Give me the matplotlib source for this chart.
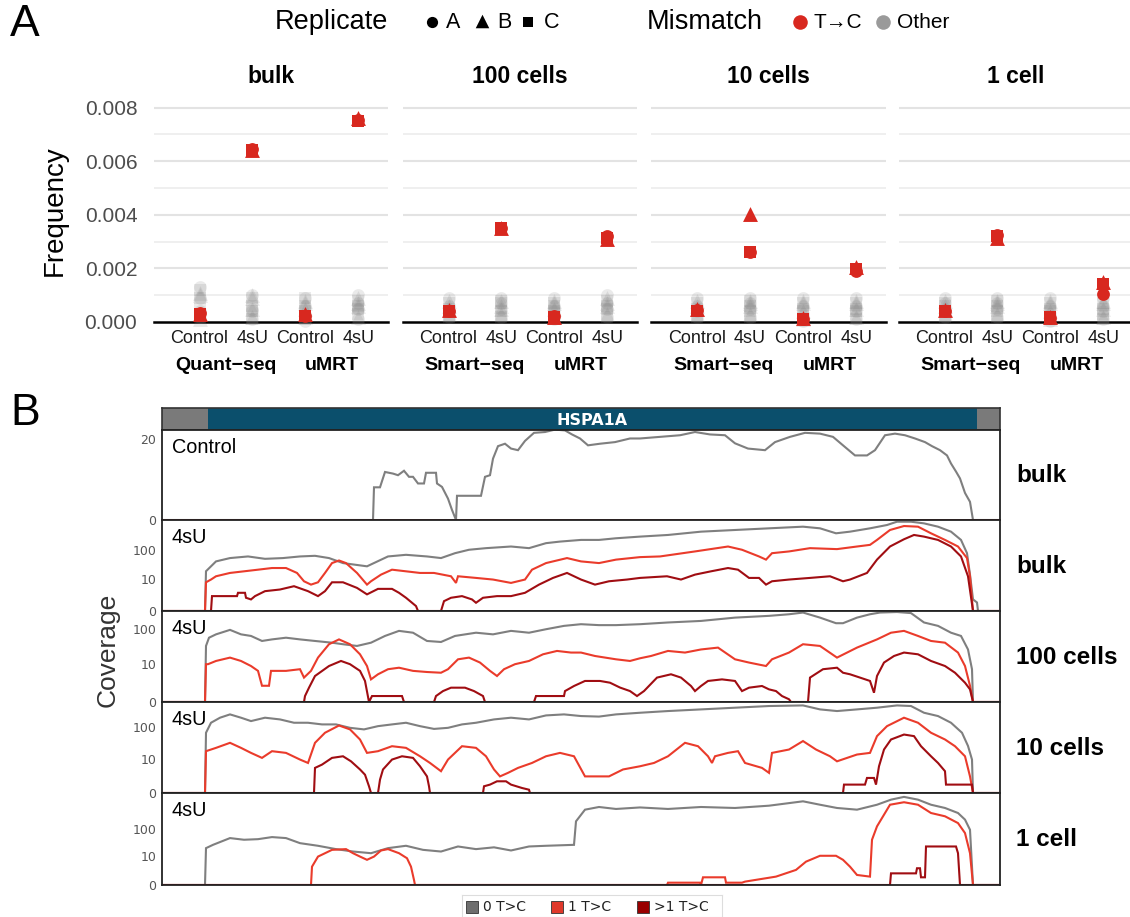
import matplotlib
matplotlib.use('Agg')
import matplotlib.pyplot as plt
import numpy as np
from matplotlib.patches import Rectangle
import matplotlib.transforms as mtrans

plt.rcParams['font.family'] = ['Liberation Sans', 'DejaVu Sans']

# ---------------- Panel A data ----------------
facet_titles = ['bulk', '100 cells', '10 cells', '1 cell']
conditions = ['Control', '4sU', 'Control', '4sU']
method_labels = [['Quant\u2212seq', 'uMRT'], ['Smart\u2212seq', 'uMRT'],
                 ['Smart\u2212seq', 'uMRT'], ['Smart\u2212seq', 'uMRT']]
replicates = ['A', 'B', 'C']
# T->C frequency per category, replicates [A, B, C]
tc_bulk = [[0.00032, 0.00030, 0.00028], [0.00645, 0.00640, 0.00640],
           [0.00024, 0.00028, 0.00022], [0.00755, 0.00760, 0.00750]]
tc_100 = [[0.00042, 0.00046, 0.00042], [0.00350, 0.00352, 0.00350],
          [0.00022, 0.00018, 0.00020], [0.00322, 0.00310, 0.00312]]
tc_10 = [[0.00045, 0.00047, 0.00042], [0.00260, 0.00402, 0.00260],
         [0.00010, 0.00015, 0.00010], [0.00190, 0.00205, 0.00198]]
tc_1 = [[0.00042, 0.00045, 0.00040], [0.00325, 0.00312, 0.00320],
        [0.00016, 0.00020, 0.00018], [0.00105, 0.00150, 0.00140]]
# other mismatch frequencies per category (4 values per replicate A, B, C)
other_bulk = [
    [0.00020, 0.00040, 0.00090, 0.00130, 0.00010, 0.00030, 0.00100, 0.00110, 0.00020, 0.00050, 0.00090, 0.00120],
    [0.00010, 0.00040, 0.00050, 0.00100, 0.00020, 0.00050, 0.00090, 0.00100, 0.00010, 0.00040, 0.00060, 0.00090],
    [0.00005, 0.00030, 0.00060, 0.00090, 0.00020, 0.00050, 0.00070, 0.00080, 0.00010, 0.00040, 0.00060, 0.00090],
    [0.00010, 0.00050, 0.00070, 0.00100, 0.00020, 0.00060, 0.00070, 0.00090, 0.00030, 0.00050, 0.00060, 0.00080]]
other_100 = [
    [0.00020, 0.00040, 0.00060, 0.00090, 0.00030, 0.00050, 0.00060, 0.00080, 0.00020, 0.00040, 0.00050, 0.00070],
    [0.00020, 0.00050, 0.00070, 0.00090, 0.00030, 0.00050, 0.00060, 0.00080, 0.00020, 0.00040, 0.00070, 0.00080],
    [0.00010, 0.00040, 0.00060, 0.00090, 0.00020, 0.00050, 0.00070, 0.00080, 0.00010, 0.00040, 0.00060, 0.00070],
    [0.00020, 0.00050, 0.00070, 0.00100, 0.00030, 0.00060, 0.00070, 0.00090, 0.00020, 0.00050, 0.00060, 0.00080]]
other_10 = [
    [0.00020, 0.00040, 0.00060, 0.00090, 0.00030, 0.00050, 0.00060, 0.00080, 0.00020, 0.00040, 0.00050, 0.00070],
    [0.00020, 0.00050, 0.00070, 0.00090, 0.00030, 0.00060, 0.00070, 0.00080, 0.00020, 0.00040, 0.00060, 0.00080],
    [0.00005, 0.00030, 0.00060, 0.00090, 0.00010, 0.00040, 0.00070, 0.00080, 0.00010, 0.00040, 0.00050, 0.00070],
    [0.00010, 0.00040, 0.00060, 0.00090, 0.00020, 0.00050, 0.00070, 0.00080, 0.00010, 0.00040, 0.00050, 0.00070]]
other_1 = [
    [0.00020, 0.00050, 0.00070, 0.00090, 0.00030, 0.00050, 0.00060, 0.00080, 0.00020, 0.00040, 0.00060, 0.00070],
    [0.00020, 0.00050, 0.00070, 0.00090, 0.00030, 0.00060, 0.00070, 0.00080, 0.00020, 0.00040, 0.00060, 0.00080],
    [0.00005, 0.00030, 0.00060, 0.00090, 0.00010, 0.00040, 0.00070, 0.00080, 0.00010, 0.00040, 0.00050, 0.00070],
    [0.00010, 0.00040, 0.00060, 0.00090, 0.00020, 0.00050, 0.00070, 0.00080, 0.00010, 0.00030, 0.00050, 0.00070]]
freq_ticks = [0.000, 0.002, 0.004, 0.006, 0.008]

# ---------------- Panel B data (position along locus, coverage) ----------------
gene_name = 'HSPA1A'
locus = (162, 1000)
gene_span = (208, 977)
track_labels = ['bulk', 'bulk', '100 cells', '10 cells', '1 cell']
track_conditions = ['Control', '4sU', '4sU', '4sU', '4sU']

ctrl_x = [162, 373, 374, 380, 385, 393, 398, 404, 409, 413, 418, 424, 426, 436, 437, 442, 448, 452, 456, 457,
          481, 485, 490, 493, 498, 505, 511, 518, 525, 534, 545, 555, 565, 572, 580, 588, 600, 615, 630, 640,
          660, 680, 695, 710, 725, 735, 748, 765, 775, 790, 805, 820, 833, 843, 855, 867, 875, 885, 895, 905,
          915, 925, 932, 940, 947, 951, 956, 960, 965, 970, 973, 1000]
ctrl_y = [0, 0, 8.1, 8.1, 11.9, 11.5, 11.1, 12.2, 10.7, 10.7, 9.05, 9.05, 11.7, 11.7, 9.05, 8.2, 5.3, 2.5, 0, 6.0,
          6.0, 10.7, 11.1, 15.2, 18.3, 18.9, 17.7, 17.3, 19.6, 21.6, 21.8, 22.4, 22.2, 21.2, 20.2, 18.5, 18.9, 19.3, 20.2, 20.2,
          20.6, 21.0, 21.8, 21.2, 21.0, 19.0, 17.7, 17.3, 19.3, 20.6, 21.6, 21.4, 20.6, 18.5, 16.0, 16.0, 17.3, 21.0, 21.4, 21.0,
          20.2, 19.3, 18.3, 17.3, 16.0, 14.0, 12.0, 10.3, 6.7, 4.5, 0, 0]

bulk_0tc_x = [162, 205, 206, 216, 230, 248, 265, 283, 300, 315, 329, 343, 367, 388, 406, 427, 441, 455, 469, 486,
              511, 529, 546, 560, 581, 599, 616, 640, 668, 701, 735, 769, 803, 820, 836, 850, 870, 887, 897, 911,
              924, 938, 951, 961, 967, 970, 973, 977, 978, 1000]
bulk_0tc_y = [0, 0, 19, 41, 53, 60, 50, 53, 60, 63, 53, 36, 28, 60, 68, 60, 53, 77, 100, 113,
              128, 113, 165, 186, 211, 211, 239, 271, 307, 394, 447, 507, 574, 507, 348, 394, 507, 651, 835, 835,
              737, 574, 394, 211, 77, 14.5, 1.4, 0.9, 0, 0]
bulk_1tc_x = [162, 205, 206, 211, 216, 230, 244, 258, 272, 286, 297, 304, 311, 318, 325, 332, 339, 346, 357, 367,
              371, 381, 392, 406, 420, 434, 451, 456, 458, 476, 493, 511, 525, 532, 546, 567, 581, 599, 616, 640,
              660, 695, 728, 742, 759, 766, 772, 789, 810, 837, 857, 870, 877, 890, 904, 918, 931, 945, 958, 967,
              970, 973, 1000]
bulk_1tc_y = [0, 0, 7.7, 9.7, 12.7, 16.6, 18.9, 21.5, 24.5, 24.5, 16.6, 8.4, 6.3, 7.7, 16.6, 36, 44, 36, 16.6, 6.3,
              8.4, 14.5, 21.5, 18.9, 16.6, 16.6, 12.7, 7.3, 12.7, 11.1, 9.7, 7.3, 9.7, 21.5, 36, 53, 41, 36, 47, 57,
              60, 88, 128, 100, 60, 47, 77, 88, 113, 105, 128, 145, 211, 447, 603, 574, 348, 211, 128, 53,
              12.7, 0, 0]
bulk_2tc_x = [162, 211, 212, 237, 238, 245, 246, 251, 255, 265, 280, 294, 308, 318, 325, 332, 343, 357, 367, 378,
              392, 399, 406, 416, 418, 441, 444, 451, 462, 472, 476, 483, 497, 511, 525, 539, 553, 567, 581, 595,
              609, 627, 640, 667, 681, 695, 711, 728, 738, 749, 759, 766, 772, 789, 810, 830, 843, 850, 867, 877,
              890, 904, 914, 924, 938, 951, 961, 968, 973, 1000]
bulk_2tc_y = [0, 0, 2.07, 2.07, 2.94, 2.94, 1.71, 1.39, 2.07, 3.46, 4.05, 5.48, 3.46, 2.07, 3.46, 7.7, 7.7, 4.7, 2.5, 4.3,
              4.3, 2.94, 1.71, 0.45, 0, 0, 1.1, 1.71, 2.07, 1.39, 0.86, 1.71, 2.07, 2.07, 2.94, 6.3, 11.1, 16.6, 9.7, 6.3,
              8.4, 9.7, 11.1, 12.7, 9.7, 14.5, 18.9, 24.5, 21.5, 11.1, 11.1, 6.3, 8.4, 9.7, 11.1, 12.7, 8.4, 9.7, 16.6, 47,
              128, 222, 307, 271, 211, 128, 60, 12.7, 0, 0]

c100_0tc_x = [162, 205, 206, 209, 216, 230, 241, 251, 262, 272, 286, 300, 315, 332, 343, 357, 371, 385, 399, 413,
              427, 441, 455, 476, 493, 511, 529, 546, 564, 581, 599, 616, 640, 668, 701, 735, 769, 789, 803, 820,
              836, 843, 857, 870, 880, 897, 911, 924, 938, 951, 961, 968, 972, 973, 1000]
c100_0tc_y = [0, 0, 34, 58, 72, 96, 72, 65, 47, 52, 58, 52, 47, 42, 38, 34, 42, 65, 90, 80,
              47, 44, 65, 80, 72, 90, 80, 100, 124, 138, 130, 130, 138, 154, 170, 210, 235, 260, 290, 210,
              147, 147, 210, 260, 290, 300, 280, 154, 124, 80, 65, 27, 7, 0, 0]
c100_1tc_x = [162, 205, 206, 208, 216, 230, 241, 251, 258, 262, 269, 271, 286, 300, 304, 311, 318, 329, 339, 350,
              360, 367, 371, 378, 388, 399, 413, 427, 441, 448, 458, 469, 480, 490, 497, 504, 515, 529, 543, 557,
              571, 581, 595, 616, 630, 640, 651, 668, 685, 701, 718, 735, 749, 766, 772, 789, 803, 820, 837, 857,
              877, 891, 904, 918, 931, 945, 958, 965, 970, 973, 1000]
c100_1tc_y = [0, 0, 10, 10, 12.5, 15.7, 12.5, 8.8, 6.2, 1.8, 1.8, 6.2, 6.2, 7, 3.7, 6.2, 15.7, 38, 52, 38,
              19.6, 8.8, 3.2, 4.8, 7, 7.8, 6.2, 5.7, 5.4, 7, 14, 15.7, 11.2, 6.2, 4.2, 7, 10, 12.5, 19.6, 24.5,
              22, 22, 17.5, 14, 12.5, 15, 17.5, 24.5, 22, 27, 30.5, 14, 11.2, 8.8, 14, 22, 38, 34, 15.7, 30.5,
              52, 80, 90, 65, 47, 42, 22, 8.8, 1.8, 0, 0]
c100_2tc_x = [162, 304, 305, 309, 315, 329, 341, 350, 360, 365, 369, 372, 402, 404, 434, 436, 443, 451, 465, 474,
              483, 485, 534, 536, 564, 565, 574, 585, 600, 610, 620, 630, 637, 644, 657, 671, 681, 691, 695, 701,
              708, 722, 735, 742, 749, 762, 769, 776, 782, 789, 791, 808, 810, 823, 837, 843, 850, 860, 870, 874,
              877, 884, 894, 904, 918, 931, 945, 955, 965, 970, 973, 1000]
c100_2tc_y = [0, 0, 0.46, 1.48, 4.2, 8.8, 12.5, 10, 6.2, 2.8, 0, 0.46, 0.46, 0, 0, 0.46, 1.0, 1.48, 1.48, 1.0,
              0.46, 0, 0, 0.46, 0.46, 1.0, 1.76, 2.8, 2.8, 2.4, 1.5, 1.0, 0.46, 1.0, 3.7, 4.8, 3.7, 1.76, 1.0, 1.76,
              2.8, 3.2, 2.8, 1.0, 1.48, 1.76, 1.23, 1.0, 0.46, 0.19, 0, 0, 3.7, 7, 7.8, 5.4, 4.8, 3.7, 2.8, 0.8,
              4.2, 11.2, 17.5, 22, 19.6, 12.5, 8.8, 5.4, 2.4, 1.23, 0, 0]

c10_0tc_x = [162, 205, 206, 211, 220, 230, 241, 251, 265, 280, 294, 308, 322, 336, 350, 364, 378, 392, 406, 420,
             434, 448, 462, 476, 494, 511, 529, 546, 564, 581, 599, 616, 640, 668, 701, 735, 769, 803, 820, 837,
             857, 877, 897, 911, 924, 938, 951, 962, 968, 972, 973, 1000]
c10_0tc_y = [0, 0, 67, 136, 194, 245, 194, 153, 194, 172, 136, 136, 121, 121, 95, 85, 107, 121, 136, 107,
             88, 95, 121, 136, 172, 194, 172, 228, 245, 218, 210, 245, 275, 310, 348, 392, 441, 460, 348, 310,
             348, 392, 460, 441, 275, 218, 136, 67, 26, 9.4, 0, 0]
c10_1tc_x = [162, 205, 206, 216, 230, 241, 251, 262, 272, 286, 300, 308, 315, 325, 339, 350, 360, 367, 378, 392,
             406, 420, 430, 441, 448, 462, 476, 486, 494, 500, 508, 518, 532, 546, 560, 574, 585, 609, 623, 640,
             654, 668, 685, 698, 708, 712, 715, 728, 738, 745, 762, 769, 772, 789, 803, 816, 830, 837, 857, 870,
             877, 887, 904, 918, 931, 945, 955, 965, 970, 973, 1000]
c10_1tc_y = [0, 0, 17.7, 22.6, 32.6, 22.6, 15.6, 10.7, 17.7, 15.6, 9.4, 7.2, 32.6, 67, 112, 85, 41.4, 15.6, 17.7, 25.5,
             22.6, 12.1, 7.2, 3.6, 9.4, 25.5, 22.6, 12.1, 4.2, 2.2, 3.1, 4.8, 7.2, 12.1, 15.6, 12.1, 2.2, 2.2, 4.2, 5.5,
             7.2, 12.1, 32.6, 25.5, 12.1, 7.2, 12.1, 15.6, 17.7, 7.2, 4.8, 3.1, 15.6, 20, 37, 20, 12.1, 8.2, 13.8, 15.6,
             52.7, 107, 194, 136, 67, 41.4, 25.5, 12.1, 2.2, 0, 0]
c10_2tc_x = [162, 314, 315, 322, 332, 343, 351, 360, 365, 369, 371, 378, 380, 383, 392, 402, 413, 420, 427, 429,
             430, 483, 484, 490, 497, 506, 511, 522, 529, 530, 843, 844, 865, 867, 874, 876, 879, 884, 891, 904,
             914, 921, 931, 938, 945, 946, 972, 973, 1000]
c10_2tc_y = [0, 0, 4.8, 6.3, 10.7, 12.1, 8.2, 4.2, 2.6, 0.6, 0, 0, 1.55, 4.2, 9.4, 12.1, 10.7, 5.5, 2.2, 0.6,
             0, 0, 0.6, 0.8, 1.27, 1.27, 0.8, 0.42, 0.26, 0, 0, 0.8, 0.8, 1.87, 1.87, 0.8, 5.5, 20, 41.4, 59,
             52.7, 25.5, 12.1, 7.2, 3.6, 0.8, 0.8, 0, 0]

c1_0tc_x = [162, 205, 206, 213, 230, 244, 258, 272, 286, 300, 318, 336, 353, 371, 388, 406, 423, 441, 458, 476,
            494, 511, 529, 546, 574, 576, 585, 599, 616, 640, 668, 701, 735, 769, 803, 820, 837, 857, 877, 891,
            904, 918, 931, 945, 958, 965, 970, 973, 1000]
c1_0tc_y = [0, 0, 19.6, 26, 46, 40, 42, 50, 46, 30, 24, 18, 14.6, 12.6, 19.6, 24, 16.9, 14.6, 22.6, 18,
            21, 16, 22.6, 24, 26, 185, 483, 602, 512, 580, 512, 602, 555, 670, 960, 725, 555, 483, 725, 1100,
            1380, 1100, 725, 555, 367, 213, 92, 0, 0]
c1_1tc_x = [162, 311, 312, 318, 332, 346, 353, 360, 367, 374, 381, 388, 399, 407, 411, 414, 415, 667, 668, 700,
            701, 703, 725, 726, 742, 745, 776, 796, 806, 820, 836, 843, 850, 857, 870, 872, 877, 890, 904, 918,
            931, 945, 958, 965, 970, 973, 1000]
c1_1tc_y = [0, 0, 3.5, 9.3, 16.9, 18, 12.6, 9.3, 6.9, 9.3, 16, 18, 12.6, 8, 3.5, 0.51, 0, 0, 0.21, 0.21,
            0, 0.88, 0.88, 0.21, 0.21, 0.32, 0.99, 2.45, 5.8, 10, 10, 6.9, 3.5, 1.28, 0.99, 40, 122, 725, 890, 725,
            367, 280, 160, 70, 12.6, 0, 0]
c1_2tc_x = [162, 890, 891, 916, 917, 920, 921, 925, 926, 956, 958, 960, 1000]
c1_2tc_y = [0, 0, 1.6, 1.6, 2.95, 2.95, 0.88, 0.88, 22.6, 22.6, 12.6, 0, 0]

cov_ticks_log = [0, 10, 100]
cov_ticks_ctrl = [0, 20]
track_ylims = [22.3, 950, 320, 585, 1900]
legend_b_labels = ['0 T>C', '1 T>C', '>1 T>C']

# ---------------- Styling ----------------
RED_A = '#d8281f'
GRAY_A = '#808080'
C0 = '#7f7f7f'
C1 = '#ea3b2b'
C2 = '#a00d12'

W, H = 1130, 917
fig = plt.figure(figsize=(W / 100, H / 100), dpi=100)


def ax_px(x0, y0, x1, y1, **kw):
    return fig.add_axes([x0 / W, 1 - y1 / H, (x1 - x0) / W, (y1 - y0) / H], **kw)


def ftext(x, y, s, **kw):
    fig.text(x / W, 1 - y / H, s, **kw)


# ---------------- Panel A ----------------
ftext(10, 24, 'A', fontsize=32, ha='left', va='center')
ftext(10, 414, 'B', fontsize=32, ha='left', va='center')

facet_px = [(154, 388), (403, 637), (651, 886), (899, 1133)]
tc_all = [tc_bulk, tc_100, tc_10, tc_1]
other_all = [other_bulk, other_100, other_10, other_1]
shapes = {'A': 'o', 'B': '^', 'C': 's'}
sizes = {'A': 85, 'B': 115, 'C': 70}

for fi, (x0, x1) in enumerate(facet_px):
    ax = ax_px(x0, 100, x1, 322)
    ax.set_xlim(-0.86, 3.56)
    ax.set_ylim(0, 0.00828)
    for v in np.arange(1, 9) * 0.001:
        major = abs((v * 1000) % 2) < 1e-6
        ax.axhline(v, color='#e3e3e3' if major else '#ebebeb', lw=1.5 if major else 1.1, zorder=0)
    for s in ax.spines.values():
        s.set_visible(False)
    ax.axhline(0, color='black', lw=1.8, zorder=1, clip_on=False)
    for ci in range(4):
        vals = other_all[fi][ci]
        for k, v in enumerate(vals):
            rep = replicates[k // 4]
            ax.scatter([ci], [v], marker=shapes[rep], s=sizes[rep], color=GRAY_A, alpha=0.16,
                       linewidths=0, zorder=2, clip_on=False)
    for ci in range(4):
        for ri, rep in enumerate(replicates):
            ax.scatter([ci], [tc_all[fi][ci][ri]], marker=shapes[rep], s=sizes[rep], color=RED_A,
                       linewidths=0, zorder=3, clip_on=False)
    ax.set_xticks(range(4))
    ax.set_xticklabels(conditions, fontsize=13, color='#1a1a1a')
    ax.tick_params(axis='x', length=0, pad=6)
    ax.set_yticks(freq_ticks)
    if fi == 0:
        ax.set_yticklabels(['%.3f' % t for t in freq_ticks], fontsize=15, color='#4d4d4d')
        ax.tick_params(axis='y', length=0, pad=12)
        ax.set_ylabel('Frequency', fontsize=20, labelpad=12)
    else:
        ax.set_yticklabels([])
        ax.tick_params(axis='y', length=0)
    ax.set_title(facet_titles[fi], fontsize=16.5, fontweight='bold', pad=12)
    trans = mtrans.blended_transform_factory(ax.transData, ax.transAxes)
    for gi, lab in enumerate(method_labels[fi]):
        ax.text(0.5 + 2 * gi, -0.195, lab, transform=trans, ha='center', va='center',
                fontsize=14, fontweight='bold', color='black')

# top legend
ftext(275, 22, 'Replicate', fontsize=19.5, ha='left', va='center')
lg_ax = ax_px(0, 0, W, 45)
lg_ax.set_xlim(0, W)
lg_ax.set_ylim(45, 0)
lg_ax.axis('off')
lg_ax.scatter([432], [22], marker='o', s=65, color='black', linewidths=0)
lg_ax.scatter([482], [21], marker='^', s=95, color='black', linewidths=0)
lg_ax.scatter([528], [22], marker='s', s=60, color='black', linewidths=0)
ftext(446, 23, 'A', fontsize=15.5, ha='left', va='center')
ftext(497, 23, 'B', fontsize=15.5, ha='left', va='center')
ftext(544, 23, 'C', fontsize=15.5, ha='left', va='center')
ftext(647, 22, 'Mismatch', fontsize=19.5, ha='left', va='center')
lg_ax.scatter([800], [22], marker='o', s=110, color=RED_A, linewidths=0)
lg_ax.scatter([883], [22], marker='o', s=110, color='#9a9a9a', linewidths=0)
ftext(814, 23, 'T\u2192C', fontsize=15, ha='left', va='center')
ftext(897, 23, 'Other', fontsize=15, ha='left', va='center')

# ---------------- Panel B ----------------
gx = ax_px(162, 408, 1000, 430)
gx.set_xlim(*locus)
gx.set_ylim(0, 1)
gx.add_patch(Rectangle((locus[0], 0), gene_span[0] - locus[0], 1, color='#7a7a7a', lw=0))
gx.add_patch(Rectangle((gene_span[0], 0), gene_span[1] - gene_span[0], 1, color='#0b4f6c', lw=0))
gx.add_patch(Rectangle((gene_span[1], 0), locus[1] - gene_span[1], 1, color='#7a7a7a', lw=0))
gx.text((gene_span[0] + gene_span[1]) / 2, 0.45, gene_name, color='white', fontsize=11.5,
        fontweight='bold', ha='center', va='center', family=['DejaVu Sans'])
gx.set_xticks([])
gx.set_yticks([])
for s in gx.spines.values():
    s.set_color('#333333')
    s.set_linewidth(1.2)

fwd = lambda y: np.log10(1 + np.clip(y, 0, None))
inv = lambda v: 10 ** v - 1

tracks = [
    [(ctrl_x, ctrl_y, C0)],
    [(bulk_0tc_x, bulk_0tc_y, C0), (bulk_1tc_x, bulk_1tc_y, C1), (bulk_2tc_x, bulk_2tc_y, C2)],
    [(c100_0tc_x, c100_0tc_y, C0), (c100_1tc_x, c100_1tc_y, C1), (c100_2tc_x, c100_2tc_y, C2)],
    [(c10_0tc_x, c10_0tc_y, C0), (c10_1tc_x, c10_1tc_y, C1), (c10_2tc_x, c10_2tc_y, C2)],
    [(c1_0tc_x, c1_0tc_y, C0), (c1_1tc_x, c1_1tc_y, C1), (c1_2tc_x, c1_2tc_y, C2)],
]
bounds = [430, 520, 611, 702, 793, 885]
for ti in range(5):
    ax = ax_px(162, bounds[ti], 1000, bounds[ti + 1])
    ax.set_xlim(*locus)
    if ti == 0:
        ax.set_ylim(0, track_ylims[0])
        ax.set_yticks(cov_ticks_ctrl)
    else:
        ax.set_yscale('function', functions=(fwd, inv))
        ax.set_ylim(0, track_ylims[ti])
        ax.set_yticks(cov_ticks_log)
    ax.set_yticklabels([str(t) for t in ax.get_yticks().astype(int)], fontsize=9, color='#555555',
                       family=['DejaVu Sans'])
    ax.tick_params(axis='y', length=0, pad=4)
    ax.set_xticks([])
    for (xs, ys, col) in tracks[ti]:
        ax.plot(xs, ys, color=col, lw=1.5, solid_joinstyle='miter', zorder=2)
    for s in ax.spines.values():
        s.set_color('#222222')
        s.set_linewidth(1.3)
        s.set_zorder(3)
    if ti == 0:
        ax.spines['bottom'].set_color('#7a1010')
    ax.text(172, 0.81, track_conditions[ti], transform=mtrans.blended_transform_factory(ax.transData, ax.transAxes),
            fontsize=14.3, ha='left', va='center')
    ftext(1016, (bounds[ti] + bounds[ti + 1]) / 2 + 1, track_labels[ti], fontsize=17.5,
          fontweight='bold', ha='left', va='center')

ftext(108, 650, 'Coverage', fontsize=19, rotation=90, ha='center', va='center', color='#333333')

# bottom legend
lb = ax_px(462, 895, 722, 917)
lb.set_xlim(462, 722)
lb.set_ylim(917, 895)
lb.set_xticks([])
lb.set_yticks([])
for s in lb.spines.values():
    s.set_color('#dddddd')
    s.set_linewidth(0.8)
for xx, col, lab in zip([466, 551, 637], ['#6e6e6e', '#e0392b', '#990000'], legend_b_labels):
    lb.add_patch(Rectangle((xx, 901), 12, 12, facecolor=col, edgecolor='#333333', lw=0.6))
    lb.text(xx + 17, 907, lab, fontsize=10, va='center', ha='left', family=['DejaVu Sans'], color='#222222')

fig.savefig('out.png', dpi=100)
